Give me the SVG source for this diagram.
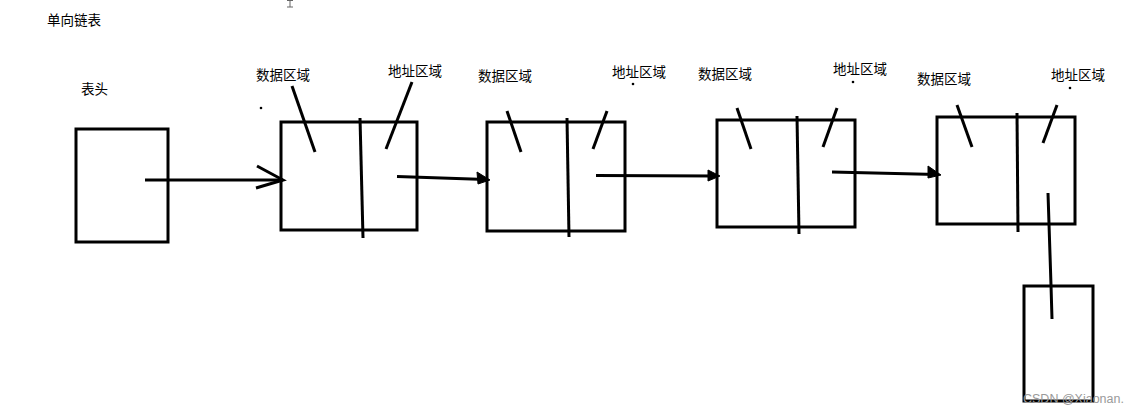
<svg xmlns="http://www.w3.org/2000/svg" width="1142" height="413" viewBox="0 0 1142 413">
<style>
.box{fill:none;stroke:#000;stroke-width:3}
.ln{fill:none;stroke:#000;stroke-width:3;stroke-linecap:butt}
.t{font-family:"Noto Sans CJK SC","Microsoft YaHei",sans-serif;font-size:13.5px;fill:#000}
.wm{font-family:"Liberation Sans",Arial,sans-serif;font-size:12.5px;fill:#9a9a9a}
.dot{fill:#000}
.ah{fill:#000;stroke:#000;stroke-width:1}
</style>
<rect width="1142" height="413" fill="#fff"/>
<text class="t" x="47" y="25">单向链表</text>
<path d="M287 0.5H293M290 0.5V7M287 7H293" stroke="#666" stroke-width="1" fill="none"/>
<g id="head">
<text class="t" x="81" y="94">表头</text>
<rect class="box" x="76" y="129" width="92" height="113"/>
</g>
<g id="node1">
<text class="t" x="256" y="80">数据区域</text>
<text class="t" x="388" y="76">地址区域</text>
<circle class="dot" cx="261" cy="108" r="1.3"/>
<rect class="box" x="281" y="122" width="136" height="108"/>
<line class="ln" x1="360" y1="118" x2="363" y2="238"/>
<line class="ln" x1="292" y1="86" x2="315" y2="152"/>
<line class="ln" x1="412" y1="82" x2="386" y2="149"/>
</g>
<g id="node2">
<text class="t" x="478" y="81">数据区域</text>
<text class="t" x="612" y="77">地址区域</text>
<circle class="dot" cx="633" cy="84" r="1.3"/>
<rect class="box" x="487" y="122" width="138" height="109"/>
<line class="ln" x1="567" y1="118" x2="569" y2="237"/>
<line class="ln" x1="507" y1="111" x2="521" y2="152"/>
<line class="ln" x1="607" y1="111" x2="593" y2="149"/>
</g>
<g id="node3">
<text class="t" x="698" y="79">数据区域</text>
<text class="t" x="833" y="74">地址区域</text>
<circle class="dot" cx="853" cy="82" r="1.3"/>
<rect class="box" x="717" y="120" width="138" height="107"/>
<line class="ln" x1="797" y1="116" x2="799" y2="234"/>
<line class="ln" x1="737" y1="108" x2="751" y2="149"/>
<line class="ln" x1="837" y1="108" x2="823" y2="147"/>
</g>
<g id="node4">
<text class="t" x="917" y="84">数据区域</text>
<text class="t" x="1051" y="80">地址区域</text>
<circle class="dot" cx="1070" cy="88" r="1.3"/>
<rect class="box" x="937" y="117" width="138" height="107"/>
<line class="ln" x1="1017" y1="113" x2="1018" y2="232"/>
<line class="ln" x1="957" y1="105" x2="972" y2="147"/>
<line class="ln" x1="1057" y1="105" x2="1043" y2="143"/>
</g>
<g id="tail">
<rect class="box" x="1024" y="286" width="69" height="115"/>
</g>
<g id="connectors">
<line class="ln" x1="145" y1="180" x2="283" y2="180"/>
<polyline class="ln" points="257,166 283,180 256,188"/>
<line class="ln" x1="397" y1="176.5" x2="486" y2="179.5"/>
<polygon class="ah" points="477,172 490,180 478,184"/>
<line class="ln" x1="596" y1="175.5" x2="716" y2="176"/>
<polygon class="ah" points="708,170 720,176 708,181"/>
<line class="ln" x1="832" y1="172" x2="937" y2="174.5"/>
<polygon class="ah" points="928,166 941,175 928,178"/>
<polyline class="ln" points="1048,193 1051,285 1052,319"/>
</g>
<text class="wm" x="1023" y="403">CSDN @Xiaonan.</text>
</svg>
